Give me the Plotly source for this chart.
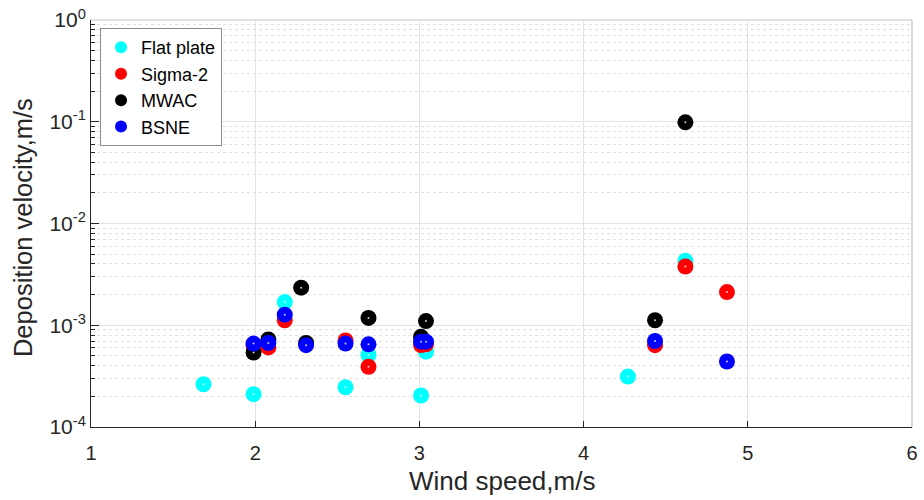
import plotly.graph_objects as go

# Wind speed (m/s) and deposition velocity (m/s) for each sampler
flat_x = [1.685, 1.99, 2.18, 2.55, 2.69, 3.01, 3.04, 4.27, 4.62]
flat_y = [2.63e-4, 2.1e-4, 1.69e-3, 2.46e-4, 5.1e-4, 2.04e-4, 5.5e-4, 3.13e-4, 4.3e-3]

sigma_x = [1.99, 2.08, 2.18, 2.55, 2.69, 3.01, 3.04, 4.435, 4.62, 4.873]
sigma_y = [6.3e-4, 6.05e-4, 1.12e-3, 7.1e-4, 3.9e-4, 6.4e-4, 6.5e-4, 6.37e-4, 3.78e-3, 2.12e-3]

mwac_x = [1.99, 2.08, 2.28, 2.31, 2.69, 3.01, 3.04, 4.435, 4.62]
mwac_y = [5.4e-4, 7.25e-4, 2.34e-3, 6.7e-4, 1.18e-3, 7.7e-4, 1.1e-3, 1.12e-3, 0.0986]

bsne_x = [1.99, 2.08, 2.18, 2.31, 2.55, 2.69, 3.01, 3.04, 4.435, 4.873]
bsne_y = [6.6e-4, 6.7e-4, 1.27e-3, 6.37e-4, 6.6e-4, 6.5e-4, 6.9e-4, 6.9e-4, 7.0e-4, 4.4e-4]

y_tickvals = [1e-4, 1e-3, 1e-2, 1e-1, 1]
y_ticktext = ["10<sup>-4</sup>", "10<sup>-3</sup>", "10<sup>-2</sup>", "10<sup>-1</sup>", "10<sup>0</sup>"]
x_tickvals = [1, 2, 3, 4, 5, 6]

x_title = "Wind speed,m/s"
y_title = "Deposition velocity,m/s"

series = [
    ("Flat plate", flat_x, flat_y, "#00ffff"),
    ("Sigma-2", sigma_x, sigma_y, "#ff0000"),
    ("MWAC", mwac_x, mwac_y, "#000000"),
    ("BSNE", bsne_x, bsne_y, "#0000ff"),
]

fig = go.Figure()
for name, xs, ys, col in series:
    fig.add_trace(go.Scatter(
        x=xs, y=ys, mode="markers", name=name,
        marker=dict(symbol="circle", size=16, color=col, line=dict(width=0)),
    ))
    # small light centre speck of each marker
    fig.add_trace(go.Scatter(
        x=xs, y=ys, mode="markers", showlegend=False, hoverinfo="skip",
        marker=dict(symbol="circle", size=2, color="rgba(255,255,255,0.8)", line=dict(width=0)),
    ))

font_family = "Liberation Sans, Arial, sans-serif"
text_col = "#262626"

# plot area in pixels: left 91, right 918, top 19, bottom 427
plot_w = 918 - 91
plot_h = 427 - 19

fig.update_layout(
    width=924, height=500,
    margin=dict(l=91, r=6, t=19, b=73),
    paper_bgcolor="white", plot_bgcolor="white",
    font=dict(family=font_family, color=text_col),
    showlegend=True,
    legend=dict(
        x=0.011, y=0.98, xanchor="left", yanchor="top",
        bgcolor="white", bordercolor="#8c8c8c", borderwidth=1,
        font=dict(size=18, color="#000000", family=font_family),
        itemsizing="constant", tracegroupgap=0,
    ),
    xaxis=dict(
        range=[1, 6], tickvals=x_tickvals, ticktext=[str(v) for v in x_tickvals],
        ticks="inside", ticklen=6, tickcolor=text_col,
        showline=True, linecolor=text_col, linewidth=1,
        showgrid=True, gridcolor="#e3e3e3", gridwidth=1,
        zeroline=False, ticklabelstandoff=8, ticklabeloverflow="allow",
        tickfont=dict(size=20, color=text_col),
    ),
    yaxis=dict(
        type="log", range=[-4, 0], tickvals=y_tickvals, ticktext=y_ticktext,
        ticks="inside", ticklen=8, tickcolor=text_col,
        showline=True, linecolor=text_col, linewidth=1,
        showgrid=True, gridcolor="#e3e3e3", gridwidth=1,
        zeroline=False, ticklabeloverflow="allow",
        minor=dict(ticks="inside", ticklen=4, tickcolor=text_col,
                   showgrid=True, gridcolor="#e0e0e0", griddash="dot", dtick="D1"),
        tickfont=dict(size=21, color=text_col),
    ),
    annotations=[
        dict(text=x_title, xref="paper", yref="paper",
             x=0.5, y=-(481 - 427) / plot_h, xanchor="center", yanchor="middle",
             showarrow=False, font=dict(size=26, color=text_col)),
        dict(text=y_title, xref="paper", yref="paper", textangle=-90,
             x=-(91 - 22) / plot_w, y=0.49, xanchor="center", yanchor="middle",
             showarrow=False, font=dict(size=25.5, color=text_col)),
    ],
    shapes=[
        dict(type="line", xref="paper", yref="paper", x0=0, x1=1, y0=1, y1=1,
             line=dict(color="#e3e3e3", width=2), layer="below"),
        dict(type="line", xref="paper", yref="paper", x0=1, x1=1, y0=0, y1=1,
             line=dict(color="#d9d9d9", width=2), layer="below"),
    ],
)

fig.write_html("out.html")
